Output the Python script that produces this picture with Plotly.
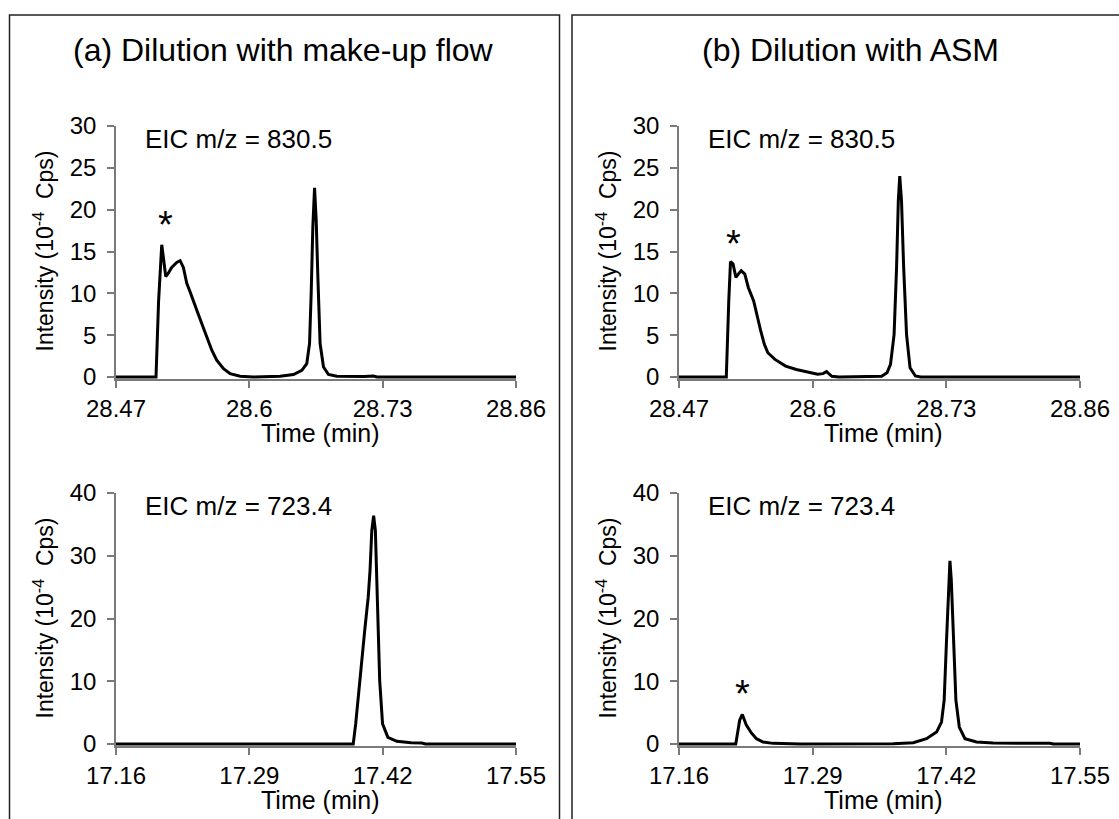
import plotly.graph_objects as go

W, H = 1119, 819

# ---------------- data ----------------
# (a) top: EIC m/z = 830.5, dilution with make-up flow
t_a_top = [28.47, 28.509, 28.5115, 28.5146, 28.5165, 28.5185, 28.521, 28.5243, 28.5292, 28.5325,
           28.5357, 28.539, 28.5422, 28.5455, 28.5487, 28.5536, 28.5585, 28.5634, 28.5682,
           28.5748, 28.5813, 28.591, 28.604, 28.63, 28.643, 28.6512, 28.656, 28.6587, 28.6603,
           28.6619, 28.6636, 28.6652, 28.6668, 28.669, 28.6723, 28.6772, 28.6853, 28.695,
           28.705, 28.712, 28.7211, 28.7244, 28.86]
i_a_top = [0, 0, 9.0, 15.8, 14.0, 12.0, 12.4, 13.1, 13.7, 13.9,
           13.1, 11.2, 10.2, 9.2, 8.0, 6.4, 4.8, 3.2, 2.0,
           1.0, 0.4, 0.1, 0, 0.08, 0.3, 0.8, 1.6, 4.0, 10.0,
           17.9, 22.6, 18.7, 12.0, 4.0, 1.2, 0.3, 0.08, 0.05,
           0.1, 0.05, 0.12, 0, 0]

# (b) top: EIC m/z = 830.5, dilution with ASM
t_b_top = [28.47, 28.516, 28.5184, 28.5201, 28.5226, 28.5253, 28.5277, 28.5305, 28.534, 28.5374,
           28.5426, 28.5461, 28.5495, 28.553, 28.5564, 28.5633, 28.5737, 28.5841, 28.5945,
           28.6048, 28.61, 28.6135, 28.6187, 28.6256, 28.6671, 28.6723, 28.6757, 28.6792,
           28.6816, 28.6833, 28.6847, 28.6864, 28.6885, 28.6913, 28.6947, 28.6999, 28.7051, 28.86]
i_b_top = [0, 0, 9.1, 13.8, 13.5, 11.9, 12.3, 12.7, 12.3, 10.7,
           9.1, 7.1, 5.5, 3.9, 2.9, 2.1, 1.3, 0.9, 0.64,
           0.32, 0.4, 0.64, 0.08, 0, 0.08, 0.5, 1.5, 5.1,
           13.1, 21.1, 24.0, 21.1, 13.1, 5.1, 1.1, 0.12, 0, 0]

# (a) bottom: EIC m/z = 723.4, dilution with make-up flow
t_a_bot = [17.16, 17.3913, 17.3937, 17.3955, 17.399, 17.4025, 17.4059, 17.4077, 17.4094, 17.4112,
           17.4129, 17.4147, 17.4171, 17.4199, 17.4251, 17.4338, 17.4478, 17.4582, 17.4617, 17.55]
i_a_bot = [0, 0, 3.2, 6.4, 12.8, 18.1, 23.4, 27.7, 34.0, 36.4,
           34.0, 23.4, 10.1, 3.2, 1.06, 0.43, 0.2, 0.15, 0, 0]

# (b) bottom: EIC m/z = 723.4, dilution with ASM
t_b_bot = [17.16, 17.2152, 17.219, 17.2216, 17.2255, 17.2304, 17.2353, 17.2418, 17.2515, 17.2645,
           17.278, 17.3683, 17.3878, 17.4007, 17.4105, 17.4153, 17.4179, 17.4202, 17.4222, 17.4235,
           17.4248, 17.4267, 17.4293, 17.4326, 17.4381, 17.4494, 17.4656, 17.5208, 17.524, 17.55]
i_b_bot = [0, 0, 3.8, 4.7, 3.0, 1.76, 0.85, 0.32, 0.1, 0.05,
           0, 0.05, 0.2, 0.85, 1.9, 3.5, 7.0, 16.6, 26.2, 29.2,
           26.2, 16.6, 7.0, 2.7, 0.85, 0.32, 0.15, 0.1, 0, 0]

x_ticks_top = [28.47, 28.6, 28.73, 28.86]
x_ticks_bot = [17.16, 17.29, 17.42, 17.55]
y_ticks_top = [0, 5, 10, 15, 20, 25, 30]
y_ticks_bot = [0, 10, 20, 30, 40]

panel_titles = ["(a) Dilution with make-up flow", "(b) Dilution with ASM"]
eic_labels = ["EIC m/z = 830.5", "EIC m/z = 723.4"]
# asterisk positions (data coords) : (panel, t, intensity)
stars = [("a_top", 28.5178, 18.2), ("b_top", 28.5226, 15.9), ("b_bot", 17.2216, 8.0)]

# ---------------- layout geometry (pixels) ----------------
FONT = "Liberation Sans, Arial, sans-serif"
ax_left = {"a": 116, "b": 679}
ax_right = {"a": 516, "b": 1080}
zero_px = {"top": 377, "bot": 744}
max_px = {"top": 126, "bot": 493}
ymax = {"top": 30, "bot": 40}
ymin_pad = {"top": -0.25, "bot": -0.33}


def pxx(x):
    return x / W


def pxy(y):
    return 1 - y / H


fig = go.Figure()

panels = {
    "a_top": (t_a_top, i_a_top, "a", "top", x_ticks_top, y_ticks_top),
    "b_top": (t_b_top, i_b_top, "b", "top", x_ticks_top, y_ticks_top),
    "a_bot": (t_a_bot, i_a_bot, "a", "bot", x_ticks_bot, y_ticks_bot),
    "b_bot": (t_b_bot, i_b_bot, "b", "bot", x_ticks_bot, y_ticks_bot),
}

axis_ids = {}
for k, (name, (tx, iy, col, row, xt, yt)) in enumerate(panels.items(), start=1):
    xa = "x" if k == 1 else f"x{k}"
    ya = "y" if k == 1 else f"y{k}"
    axis_ids[name] = (xa, ya)
    fig.add_trace(go.Scatter(x=tx, y=iy, mode="lines", xaxis=xa, yaxis=ya,
                             line=dict(color="black", width=3), showlegend=False,
                             hoverinfo="skip"))
    scale = (zero_px[row] - max_px[row]) / ymax[row]
    bottom_px = zero_px[row] - ymin_pad[row] * scale
    xkey = "xaxis" if k == 1 else f"xaxis{k}"
    ykey = "yaxis" if k == 1 else f"yaxis{k}"
    fig.layout[xkey] = dict(
        domain=[pxx(ax_left[col]), pxx(ax_right[col])],
        range=[xt[0], xt[-1]], anchor=ya, automargin=False,
        tickmode="array", tickvals=xt, ticktext=[f"{v:g}" for v in xt],
        showline=True, linecolor="#7a7a7a", linewidth=1.5,
        ticks="outside", ticklen=7, tickcolor="#7a7a7a", tickwidth=1.5,
        tickfont=dict(family=FONT, size=24, color="black"),
        showgrid=False, zeroline=False, fixedrange=True,
    )
    fig.layout[ykey] = dict(
        domain=[pxy(bottom_px), pxy(max_px[row])],
        range=[ymin_pad[row], ymax[row]], anchor=xa, automargin=False,
        tickmode="array", tickvals=yt, ticktext=[str(v) for v in yt],
        showline=True, linecolor="#7a7a7a", linewidth=1.5,
        ticks="outside", ticklen=7, tickcolor="#7a7a7a", tickwidth=1.5,
        ticklabelstandoff=6,
        tickfont=dict(family=FONT, size=24, color="black"),
        showgrid=False, zeroline=False, fixedrange=True,
    )

    # axis titles as annotations
    cx = (ax_left[col] + ax_right[col]) / 2
    fig.add_annotation(x=pxx(cx + 4), y=pxy(zero_px[row] + 56), xref="paper", yref="paper",
                       text="Time (min)", showarrow=False, xanchor="center", yanchor="middle",
                       font=dict(family=FONT, size=25, color="black"))
    fig.add_annotation(x=pxx(ax_left[col] - 73), y=pxy((zero_px[row] + max_px[row]) / 2),
                       xref="paper", yref="paper",
                       text="Intensity (10<sup>-4</sup>  Cps)", showarrow=False, textangle=-90,
                       xanchor="center", yanchor="middle",
                       font=dict(family=FONT, size=23, color="black"))
    # EIC label
    fig.add_annotation(x=pxx(ax_left[col] + 27), y=pxy(max_px[row] + 13), xref="paper", yref="paper",
                       text=eic_labels[0] if row == "top" else eic_labels[1], showarrow=False,
                       xanchor="left", yanchor="middle",
                       font=dict(family=FONT, size=26, color="black"))

for name, t, v in stars:
    xa, ya = axis_ids[name]
    fig.add_annotation(x=t, y=v, xref=xa, yref=ya, text="*", showarrow=False,
                       xanchor="center", yanchor="middle",
                       font=dict(family=FONT, size=38, color="black"))

# panel titles
fig.add_annotation(x=pxx(283), y=pxy(50), xref="paper", yref="paper", text=panel_titles[0],
                   showarrow=False, xanchor="center", yanchor="middle",
                   font=dict(family=FONT, size=32, color="black"))
fig.add_annotation(x=pxx(850), y=pxy(50), xref="paper", yref="paper", text=panel_titles[1],
                   showarrow=False, xanchor="center", yanchor="middle",
                   font=dict(family=FONT, size=32, color="black"))

# panel frames (open at bottom / right edge of the picture)
def frame_path(x0, x1, top):
    return f"M {pxx(x0)},{pxy(H + 10)} L {pxx(x0)},{pxy(top)} L {pxx(x1)},{pxy(top)} L {pxx(x1)},{pxy(H + 10)}"

fig.add_shape(type="path", path=frame_path(9.5, 559.5, 15), xref="paper", yref="paper",
              line=dict(color="#222222", width=1.5))
fig.add_shape(type="path", path=frame_path(572, 1130, 15), xref="paper", yref="paper",
              line=dict(color="#222222", width=1.5))

fig.update_layout(
    width=W, height=H, margin=dict(l=0, r=0, t=0, b=0, pad=0, autoexpand=False),
    paper_bgcolor="white", plot_bgcolor="white",
    font=dict(family=FONT, color="black"),
    showlegend=False,
)

fig.write_html("out.html")
